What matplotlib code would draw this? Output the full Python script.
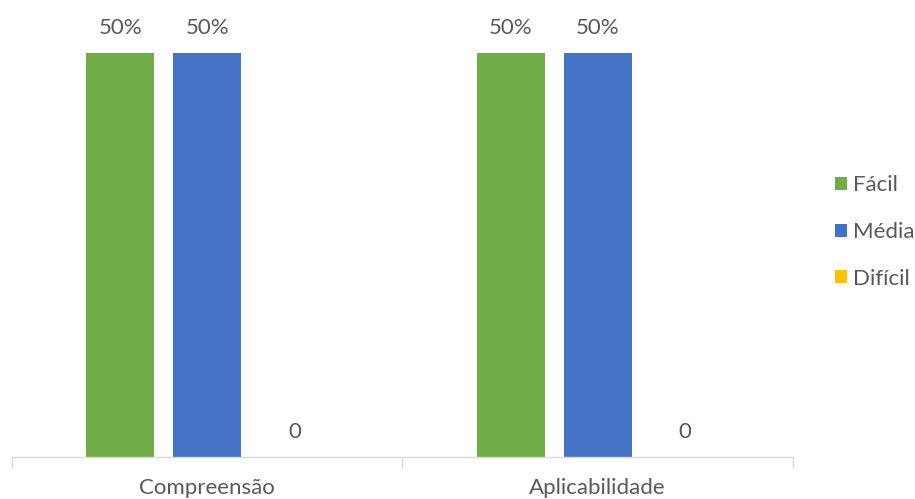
import matplotlib
matplotlib.use("Agg")
import matplotlib.pyplot as plt
import numpy as np

categories = ["Compreensão", "Aplicabilidade"]
series_names = ["Fácil", "Média", "Difícil"]
facil = [0.5, 0.5]
media = [0.5, 0.5]
dificil = [0.0, 0.0]
value_labels = [["50%", "50%"], ["50%", "50%"], ["0", "0"]]
colors = ["#70AD47", "#4472C4", "#FFC000"]

plt.rcParams["font.family"] = ["Lato", "DejaVu Sans"]
text_color = "#595959"
fs = 16

W, H = 915, 499
fig = plt.figure(figsize=(W / 100, H / 100), dpi=100)
ax = fig.add_axes([12 / W, 1 - 457 / H, (793 - 12) / W, (457 - 53) / H])

x = np.arange(len(categories))
bar_w = 68 / 390
step = 87 / 390
values = [facil, media, dificil]
for i, (vals, col, labs) in enumerate(zip(values, colors, value_labels)):
    pos = x + (i - 1) * step
    bars = ax.bar(pos, vals, width=bar_w, color=col, label=series_names[i])
    for b, lab in zip(bars, labs):
        ax.annotate(lab, (b.get_x() + b.get_width() / 2, b.get_height()),
                    xytext=(0, 18), textcoords="offset points",
                    ha="center", va="center", fontsize=fs, color=text_color,
                    annotation_clip=False)

ax.set_xlim(-0.5, len(categories) - 0.5)
ax.set_ylim(0, 0.5)
ax.set_yticks([])
for s in ["top", "right", "left"]:
    ax.spines[s].set_visible(False)
ax.spines["bottom"].set_color("#D9D9D9")
ax.spines["bottom"].set_linewidth(1)

ax.set_xticks([-0.5, 0.5, 1.5], minor=False)
ax.set_xticklabels(["", "", ""])
ax.tick_params(axis="x", which="major", length=8, color="#D9D9D9", width=1)
ax.set_xticks(x, minor=True)
ax.set_xticklabels(categories, minor=True, fontsize=fs, color=text_color)
ax.tick_params(axis="x", which="minor", length=0, pad=15)

leg = fig.legend(loc="center left", bbox_to_anchor=(815 / W, 1 - 232 / H),
                 frameon=False, fontsize=fs, handlelength=0.54, handleheight=0.54,
                 handletextpad=0.25, labelspacing=1.2)
for t in leg.get_texts():
    t.set_color(text_color)

fig.savefig("out.png", dpi=100)
